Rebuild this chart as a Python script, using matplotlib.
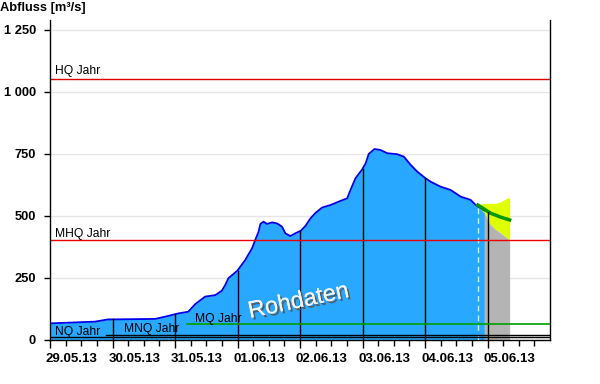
import matplotlib
matplotlib.use("Agg")
import matplotlib.pyplot as plt
import matplotlib.patheffects as pe
import matplotlib.transforms as mtrans
import numpy as np

# ---- data (hours since 29.05.13 00:00, discharge m3/s) ----
obs_hours = [0, 17.3, 22.3, 24, 40.4, 45.4, 49.2, 53.1, 55.8, 59.6, 63.5, 66.0, 67.3, 68.5,
             72.0, 75.0, 77.6, 78.8, 80.1, 80.8, 82.0, 83.3, 85.3, 87.2, 89.1, 90.4, 92.3,
             94.2, 96.4, 98.1, 100.0, 101.9, 104.5, 107.7, 110.9, 114.1, 115.4, 117.3, 119.9,
             121.2, 122.4, 124.6, 126.9, 129.5, 133.3, 135.9, 138.5, 141.0, 144.2, 146.2,
             150.0, 153.8, 157.7, 161.5, 163.5, 166.8]
obs_values = [67, 74, 83, 83, 85, 97, 107, 114, 145, 175, 181, 199, 222, 249,
              280, 323, 370, 403, 437, 468, 477, 468, 474, 470, 457, 430, 419,
              430, 441, 460, 490, 512, 534, 544, 558, 571, 605, 652, 688,
              712, 750, 770, 766, 753, 749, 739, 706, 679, 652, 638,
              618, 605, 578, 565, 544, 522]

fc_hours = [164.3, 166.8, 169.2, 171.2, 173.1, 175.0, 176.5]
fc_mean = [544, 527, 511, 503, 495, 489, 484]
fc_upper = [544, 551, 551, 551, 557, 569, 574]
fc_lower = [536, 512, 464, 445, 431, 415, 403]

now_hour = 164.4
raw_end_hour = 166.8

levels = {"HQ Jahr": 1052, "MHQ Jahr": 403, "MQ Jahr": 65, "MNQ Jahr": 21, "NQ Jahr": 12}

day_labels = ["29.05.13", "30.05.13", "31.05.13", "01.06.13", "02.06.13",
              "03.06.13", "04.06.13", "05.06.13"]
y_ticks = [0, 250, 500, 750, 1000, 1250]
y_ticklabels = ["0", "250", "500", "750", "1 000", "1 250"]

# ---- figure ----
plt.rcParams['font.family'] = ['Liberation Sans', 'DejaVu Sans']
fig = plt.figure(figsize=(6.0, 3.84), dpi=100)
ax = fig.add_axes([50/600, 44/384, 500/600, 320/384])

xmax = 192
ax.set_xlim(0, xmax)
ax.set_ylim(0, 1290)

# grid
for yv in y_ticks[1:]:
    ax.axhline(yv, color='#e6e6e6', lw=1, zorder=0)

# observed data
ax.fill_between(obs_hours, 0, obs_values, color='#29a8ff', lw=0, zorder=1)
ax.plot(obs_hours, obs_values, color='#0000ee', lw=1.3, zorder=2)

# forecast
fh = np.array(fc_hours)
ax.fill_between(fh, fc_lower, fc_upper, color='#ddff00', lw=0, zorder=1.5)
mask = fh >= raw_end_hour
ax.fill_between(fh[mask], 0, np.array(fc_lower)[mask], color='#b4b4b4', lw=0, zorder=1.5)
ax.plot(fc_hours, fc_mean, color='#009900', lw=2.5, zorder=3)

# now marker
now_val = np.interp(now_hour, obs_hours, obs_values)
ax.plot([now_hour, now_hour], [0, now_val], color='#d8f4ff', lw=1, ls=(0, (4, 3)), zorder=3)

# midnight markers
comb_h = list(obs_hours) + [h for h in fc_hours if h > raw_end_hour]
comb_v = list(obs_values) + [v for h, v in zip(fc_hours, fc_mean) if h > raw_end_hour]
for d in range(1, 8):
    h = 24 * d
    v = np.interp(h, comb_h, comb_v)
    ax.plot([h, h], [0, v], color='black', lw=1, zorder=3)

# reference levels
ax.axhline(levels["HQ Jahr"], color='#dd0000', lw=1, zorder=4)
ax.axhline(levels["MHQ Jahr"], color='#ee0000', lw=1, zorder=4)
ax.plot([52.5, xmax], [levels["MQ Jahr"]] * 2, color='#00a000', lw=1.2, zorder=4)
ax.plot([21.5, xmax], [levels["MNQ Jahr"]] * 2, color='black', lw=1, zorder=4)
ax.plot([0, xmax], [levels["NQ Jahr"]] * 2, color='black', lw=1, zorder=4)

fs_lbl = 8.7
ax.text(2, levels["HQ Jahr"] + 10, "HQ Jahr", fontsize=fs_lbl, va='bottom', ha='left', zorder=5)
ax.text(2, levels["MHQ Jahr"] + 1, "MHQ Jahr", fontsize=fs_lbl, va='bottom', ha='left', zorder=5)
ax.text(1.8, 10, "NQ Jahr", fontsize=fs_lbl, va='bottom', ha='left', zorder=5)
ax.text(28.5, 21, "MNQ Jahr", fontsize=fs_lbl, va='bottom', ha='left', zorder=5)
ax.text(55.5, 60, "MQ Jahr", fontsize=fs_lbl, va='bottom', ha='left', zorder=5)

# Rohdaten watermark
ax.text(95.5, 155, "Rohdaten", fontsize=17, rotation=12, ha='center', va='center',
        color='#f4f4f4', zorder=6,
        path_effects=[pe.withSimplePatchShadow(offset=(1.5, -1.5), shadow_rgbFace='#555555', alpha=0.9),
                      pe.Normal()])

# axes styling
ax.spines['top'].set_visible(False)
for s in ['left', 'right', 'bottom']:
    ax.spines[s].set_color('black')
    ax.spines[s].set_linewidth(1)
ax.spines['left'].set_zorder(7)

ax.set_yticks(y_ticks)
ax.set_yticklabels(y_ticklabels, fontsize=9.3, fontweight='bold')
ax.tick_params(axis='y', length=4, width=1, pad=6)

ax.set_xticks([24 * i for i in range(8)])
ax.set_xticklabels(day_labels, fontsize=9.5, fontweight='bold', ha='left')
ax.set_xticks([6 * i for i in range(33) if i % 4 != 0], minor=True)
ax.tick_params(axis='x', which='major', length=6, width=1, pad=3)
ax.tick_params(axis='x', which='minor', length=4, width=1)

off = mtrans.ScaledTranslation(-4/100, 0, fig.dpi_scale_trans)
for lab in ax.get_xticklabels():
    lab.set_transform(lab.get_transform() + off)

fig.text(0/600, 1 - 8/384, "Abfluss [m³/s]", fontsize=9.3, fontweight='bold', ha='left', va='center')

fig.savefig("out.png", dpi=100)
